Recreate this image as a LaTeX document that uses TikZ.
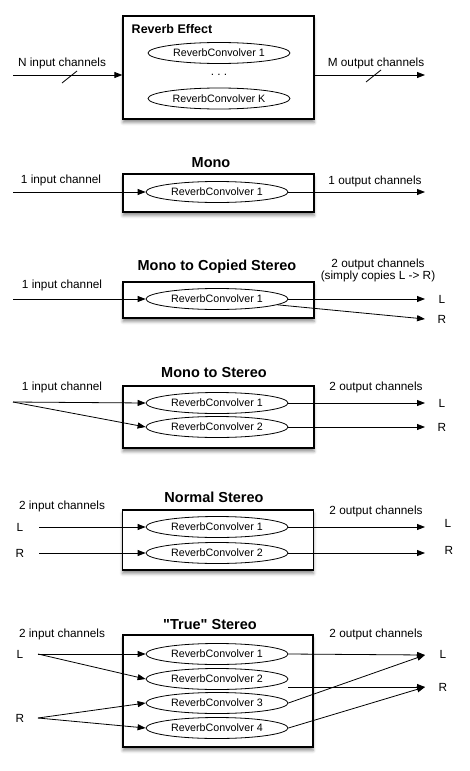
\documentclass[tikz,border=0pt]{standalone}
\usepackage{fontspec}
\setmainfont{Liberation Sans}[Ligatures=TeXOff]
\usetikzlibrary{arrows.meta,shapes.geometric,shadows.blur}

\begin{document}
\begin{tikzpicture}
      [x=1pt,y=-1pt,>={Triangle[length=8pt,width=6pt]},line width=0.8pt,
       box node/.style={rectangle,draw,line width=1.3pt,fill=white,minimum width=191pt,
         blur shadow={shadow xshift=0pt,shadow yshift=-3.5pt,shadow blur radius=3pt,shadow opacity=45}},
       conv node/.style={ellipse,draw,line width=0.8pt,minimum width=142pt,minimum height=21pt,
         inner sep=0pt,font=\fontsize{10.7}{12}\selectfont},
       title node/.style={font=\fontsize{14.5}{16}\selectfont\bfseries},
       label node/.style={font=\fontsize{11.8}{12}\selectfont,align=center}]
        \useasboundingbox (0,0) rectangle (469,771);

        \node[box node,minimum height=103pt] (box0) at (218.5,67.5) {};
        \node[anchor=west,font=\fontsize{12.5}{14}\selectfont\bfseries] (t0) at (128,29) {Reverb Effect};
        \node[conv node] (c01) at (219,53) {ReverbConvolver 1};
        \node[label node] (dots) at (219,75) {.\ .\ .};
        \node[conv node] (c0k) at (219,98.5) {ReverbConvolver K};
        \node[label node] (n0) at (62,63.5) {N input channels};
        \node[label node] (m0) at (376,63.5) {M output channels};
        \coordinate (i0) at (13,75);
        \coordinate (o0) at (425,75);
        \coordinate (s0) at (69.5,77);
        \coordinate (s1) at (373.5,76);

        \draw[->] (i0) -- (i0 -| box0.west);
        \draw[->] (o0 -| box0.east) -- (o0);
        \draw ([shift={(-7.5,6)}]s0) -- ([shift={(7.5,-6)}]s0);
        \draw ([shift={(-7.5,6)}]s1) -- ([shift={(7.5,-6)}]s1);

        \node[title node] (t1) at (211,163) {Mono};
        \node[box node,minimum height=38pt] (box1) at (218.5,193) {};
        \node[conv node] (c11) at (217,192) {ReverbConvolver 1};
        \node[label node] (n1) at (61,180.5) {1 input channel};
        \node[label node] (m1) at (375,181) {1 output channels};
        \coordinate (i1) at (13,192);
        \coordinate (o1) at (425,192);

        \draw[->] (i1) -- (c11);
        \draw[->] (c11) -- (o1);

        \node[title node] (t2) at (217,267) {Mono to Copied Stereo};
        \node[box node,minimum height=36pt] (box2) at (218.5,300) {};
        \node[conv node] (c21) at (217,299) {ReverbConvolver 1};
        \node[label node] (n2) at (62,285.5) {1 input channel};
        \node[label node] (m2) at (378,270.5) {2 output channels\\(simply copies L -> R)};
        \node[label node] (l2) at (442,299) {L};
        \node[label node] (r2) at (442,319) {R};
        \coordinate (i2) at (13,299);
        \coordinate (ol2) at (425,299);
        \coordinate (or2) at (425,319);

        \draw[->] (i2) -- (c21);
        \draw[->] (c21) -- (ol2);
        \draw[->] (c21) -- (or2);

        \node[title node] (t3) at (214,373) {Mono to Stereo};
        \node[box node,minimum height=62pt] (box3) at (218.5,417) {};
        \node[conv node] (c31) at (217,403) {ReverbConvolver 1};
        \node[conv node] (c32) at (217,427) {ReverbConvolver 2};
        \node[label node] (n3) at (62,387.5) {1 input channel};
        \node[label node] (m3) at (376,387.5) {2 output channels};
        \node[label node] (l3) at (442,403) {L};
        \node[label node] (r3) at (442,427) {R};
        \coordinate (i3) at (13,402);
        \coordinate (ol3) at (425,403);
        \coordinate (or3) at (425,427);

        \draw[->] (i3) -- (c31.west);
        \draw[->] (i3) -- (c32.west);
        \draw[->] (c31) -- (ol3);
        \draw[->] (c32) -- (or3);

        \node[title node] (t4) at (214,497) {Normal Stereo};
        \node[box node,minimum height=60pt] (box4) at (218,540) {};
        \node[conv node] (c41) at (217,527) {ReverbConvolver 1};
        \node[conv node] (c42) at (217,553) {ReverbConvolver 2};
        \node[label node] (n4) at (62,506.5) {2 input channels};
        \node[label node] (li4) at (20,527) {L};
        \node[label node] (ri4) at (20,553) {R};
        \node[label node] (m4) at (376,511.5) {2 output channels};
        \node[label node] (l4) at (448,523) {L};
        \node[label node] (r4) at (449,550) {R};
        \coordinate (il4) at (39,527);
        \coordinate (ir4) at (39,553);
        \coordinate (ol4) at (425,527);
        \coordinate (or4) at (425,553);

        \draw[->] (il4) -- (c41);
        \draw[->] (ir4) -- (c42);
        \draw[->] (c41) -- (ol4);
        \draw[->] (c42) -- (or4);

        \node[title node] (t5) at (210,625) {"True" Stereo};
        \node[box node,minimum width=190pt,minimum height=112pt] (box5) at (218,691) {};
        \node[conv node] (c51) at (217,654) {ReverbConvolver 1};
        \node[conv node] (c52) at (217,679) {ReverbConvolver 2};
        \node[conv node] (c53) at (217,703) {ReverbConvolver 3};
        \node[conv node] (c54) at (217,728) {ReverbConvolver 4};
        \node[label node] (n5) at (62,634.5) {2 input channels};
        \node[label node] (li5) at (20,654) {L};
        \node[label node] (ri5) at (20,718) {R};
        \node[label node] (m5) at (376,634.5) {2 output channels};
        \node[label node] (l5) at (443,654) {L};
        \node[label node] (r5) at (443,687) {R};
        \coordinate (il5) at (38,654);
        \coordinate (ir5) at (38,718);
        \coordinate (ol5) at (425,655);
        \coordinate (or5) at (425,687);

        \draw[->] (il5) -- (c51.west);
        \draw[->] (il5) -- (c52.west);
        \draw[->] (ir5) -- (c53.west);
        \draw[->] (ir5) -- (c54.west);
        \draw[->] (c51.east) -- (ol5);
        \draw[->] (c53.east) -- (ol5);
        \draw[->] (c52.east |- or5) -- (or5);
        \draw[->] (c54.east) -- (or5);

      \end{tikzpicture}
\end{document}
